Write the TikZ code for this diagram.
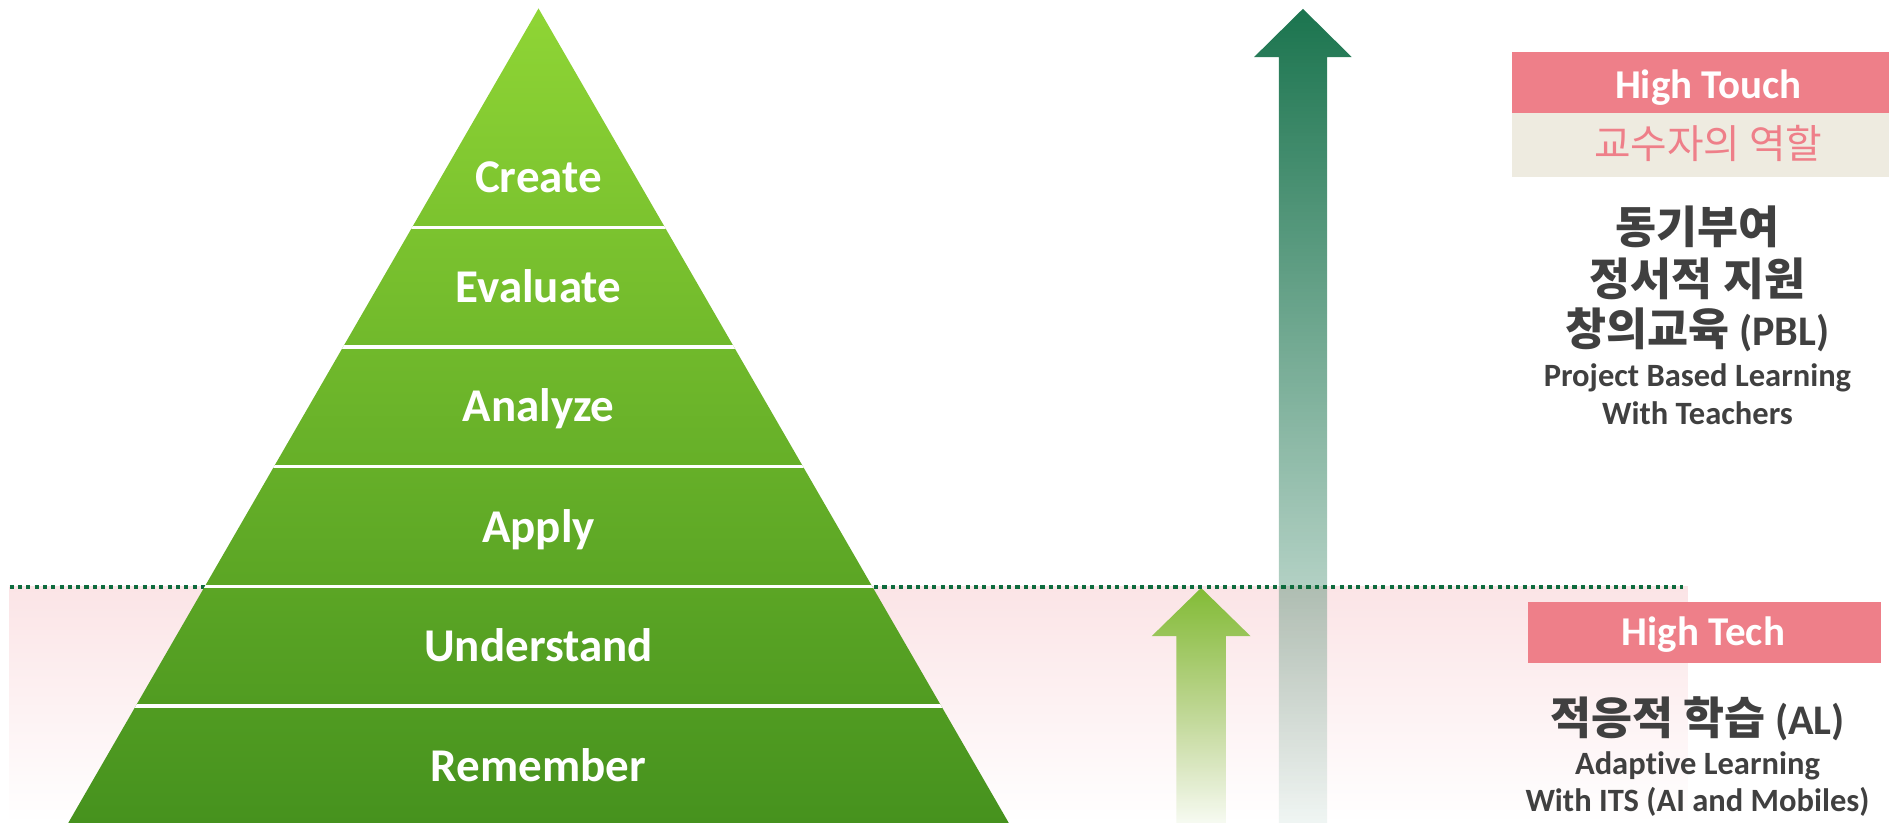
\documentclass[tikz,border=0pt]{standalone}
\usepackage{fontspec}
\setmainfont{Carlito}[Ligatures={NoCommon,NoContextual}]
\newfontfamily\kr{Noto Sans CJK KR}
\usetikzlibrary{fadings}
\pgfdeclarefading{upfade}{\tikz\shade[top color=white, bottom color=black] (0,0) rectangle (2,2);}
\definecolor{pyrtop}{HTML}{8FD535}
\definecolor{pyrbot}{HTML}{46921E}
\definecolor{bandpink}{HTML}{FBE4E6}
\definecolor{dotgreen}{HTML}{0E6B3E}
\definecolor{darkarrow}{HTML}{0C6B43}
\definecolor{lightarrow}{HTML}{7BBA2C}
\definecolor{boxpink}{HTML}{EE7F89}
\definecolor{boxbeige}{HTML}{EEEBE0}
\definecolor{txtgray}{HTML}{404040}
\newcommand{\krb}{\kr\fontsize{37}{37}\selectfont\bfseries}
\begin{document}
\begin{tikzpicture}[x=1pt,y=-1pt,
  lbl/.style={text=white, anchor=base, inner sep=0pt, font=\fontsize{39}{39}\selectfont\bfseries},
  boxlbl/.style={text=white, anchor=base, inner sep=0pt, font=\fontsize{34}{34}\selectfont\bfseries},
  krbig/.style={text=txtgray, anchor=base, inner sep=0pt, font=\fontsize{35}{35}\selectfont\bfseries},
  ensmall/.style={text=txtgray, anchor=base, inner sep=0pt, font=\fontsize{27}{27}\selectfont\bfseries},
  sep/.style={white, line width=2.6pt},
  dotline/.style={dotgreen, line width=3.3pt, dash pattern=on 3.4pt off 3.5pt},
  pinkbox/.style={fill=boxpink, draw=none, inner sep=0pt},
  beigebox/.style={fill=boxbeige, draw=none, inner sep=0pt}]
\useasboundingbox (0,0) rectangle (1568,683);
% pink band
\fill[top color=bandpink, bottom color=white] (8,487) rectangle (1401,683);
% arrows
\fill[darkarrow, path fading=upfade] (1061.5,683) -- (1061.5,47) -- (1041,47) -- (1081.5,7) -- (1122,47) -- (1101.5,47) -- (1101.5,683) -- cycle;
\fill[lightarrow, path fading=upfade] (976.5,683) -- (976.5,528) -- (956,528) -- (997,488) -- (1038,528) -- (1017.5,528) -- (1017.5,683) -- cycle;
% dotted line
\draw[dotline] (8,487) -- (1397,487);
% pyramid
\shade[top color=pyrtop, bottom color=pyrbot] (447,7) -- (837.3,683) -- (56.7,683) -- cycle;
\begin{scope}
\clip (447,7) -- (837.3,683) -- (56.7,683) -- cycle;
\foreach \yy in {189,288,387,487,586} \draw[sep] (40,\yy) -- (860,\yy);
\end{scope}
\node[lbl] (create) at (447,160) {Create};
\node[lbl] (evaluate) at (447,251) {Evaluate};
\node[lbl] (analyze) at (447,350) {Analyze};
\node[lbl] (apply) at (447,450) {Apply};
\node[lbl] (understand) at (447,549) {Understand};
\node[lbl] (remember) at (447,649) {Remember};
% High Touch
\node[pinkbox, minimum width=313pt, minimum height=51pt] (htbox) at (1411.5,68.5) {};
\node[beigebox, minimum width=313pt, minimum height=53pt] (rolebox) at (1411.5,120.5) {};
\node[boxlbl] (httext) at (1418,81.6) {High Touch};
\node[anchor=base, inner sep=0pt, text=boxpink, font=\kr\fontsize{33}{33}\selectfont] (role) at (1418,131.5) {교수자의 역할};
\node[krbig] (k1) at (1409,202) {\krb 동기부여};
\node[krbig] (k2) at (1409,245) {\krb 정서적 지원};
\node[krbig] (k3) at (1409,287) {{\krb 창의교육} (PBL)};
\node[ensmall] (e1) at (1409,321) {Project Based Learning};
\node[ensmall] (e2) at (1409,352) {With Teachers};
% High Tech
\node[pinkbox, minimum width=293pt, minimum height=50pt] (techbox) at (1414.5,525) {};
\node[boxlbl] (techtext) at (1414,535.4) {High Tech};
\node[krbig] (k4) at (1409,610) {{\krb 적응적 학습} (AL)};
\node[ensmall] (e3) at (1409,643) {Adap\kern0pt tive Learning};
\node[ensmall] (e4) at (1409,674) {With ITS (AI and Mobiles)};
\end{tikzpicture}
\end{document}
